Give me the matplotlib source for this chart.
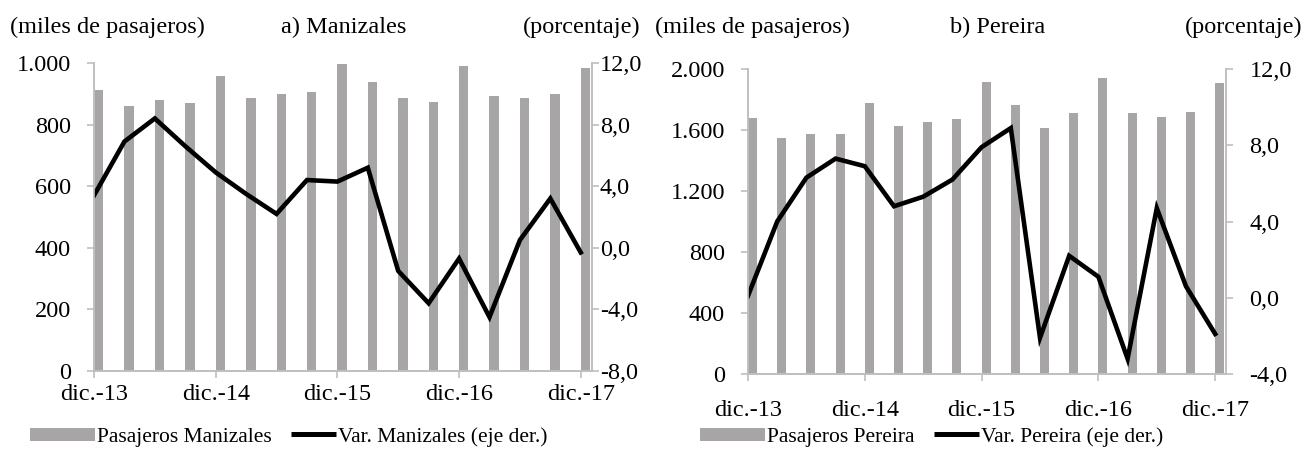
import matplotlib.pyplot as plt
from matplotlib.ticker import FuncFormatter, MultipleLocator
from matplotlib.patches import Patch
from matplotlib.lines import Line2D
from matplotlib.legend_handler import HandlerBase

plt.rcParams['font.family'] = ['Liberation Serif', 'DejaVu Serif']
plt.rcParams['font.size'] = 17.5

# trimestres dic.-13 a dic.-17
trimestres = ['dic.-13', 'mar.-14', 'jun.-14', 'sep.-14',
              'dic.-14', 'mar.-15', 'jun.-15', 'sep.-15',
              'dic.-15', 'mar.-16', 'jun.-16', 'sep.-16',
              'dic.-16', 'mar.-17', 'jun.-17', 'sep.-17', 'dic.-17']

pas_manizales = [912, 860, 880, 869, 958, 887, 900, 906, 996, 938,
                 887, 873, 990, 893, 887, 900, 983]
var_manizales = [3.4, 6.9, 8.4, 6.6, 4.9, 3.5, 2.2, 4.4, 4.3, 5.2,
                 -1.5, -3.6, -0.7, -4.5, 0.5, 3.2, -0.3]

pas_pereira = [1680, 1550, 1575, 1575, 1780, 1625, 1650, 1675, 1915, 1765,
               1610, 1710, 1940, 1710, 1685, 1720, 1905]
var_pereira = [0.1, 4.0, 6.3, 7.3, 6.9, 4.8, 5.3, 6.2, 7.9, 8.9,
               -2.1, 2.2, 1.1, -3.2, 4.7, 0.6, -1.9]

gris = '#a7a5a5'
eje = '#bfbfbf'
W, H = 1308., 451.

miles = FuncFormatter(lambda v, p: '{:,.0f}'.format(v).replace(',', '.'))
pct = FuncFormatter(lambda v, p: '{:.1f}'.format(v).replace('.', ','))


class ShortLine(HandlerBase):
    # legend line shorter than the bar patch, as in the original
    def create_artists(self, legend, orig_handle, xdescent, ydescent,
                       width, height, fontsize, trans):
        y = height / 2. - ydescent
        ln = Line2D([width * 0.3 - xdescent, width - xdescent], [y, y],
                    color=orig_handle.get_color(), lw=orig_handle.get_linewidth(),
                    solid_capstyle='butt', transform=trans)
        return [ln]


fig = plt.figure(figsize=(13.08, 4.51), dpi=100)


def panel(px, pas, var, ymax, ystep, y2lim, titulo, nombre, hx, rpad, xpad, legx):
    x0, x1, ytop, ybot = px
    ax = fig.add_axes([x0 / W, 1 - ybot / H, (x1 - x0) / W, (ybot - ytop) / H])
    x = list(range(len(trimestres)))
    ax.bar(x, pas, width=0.31, align='edge', color=gris, zorder=2)
    ax.set_xlim(0, 16.37)
    ax.set_ylim(0, ymax)
    ax.yaxis.set_major_locator(MultipleLocator(ystep))
    ax.yaxis.set_major_formatter(miles)
    ax.set_xticks(x[::4])
    ax.set_xticklabels(trimestres[::4])

    ax2 = ax.twinx()
    ax2.plot(x, var, color='black', lw=3.3, solid_joinstyle='miter')
    ax2.set_ylim(*y2lim)
    ax2.yaxis.set_major_locator(MultipleLocator(4))
    ax2.yaxis.set_major_formatter(pct)

    for a in (ax, ax2):
        for s in a.spines.values():
            s.set_color(eje)
            s.set_linewidth(1.2)
        a.spines['top'].set_visible(False)
        a.tick_params(color=eje, length=5, width=1.2, direction='out')
    ax.tick_params(axis='y', pad=11.5)
    ax.tick_params(axis='x', pad=xpad)
    ax2.tick_params(axis='y', pad=rpad)

    fig.text(hx[0] / W, 0.94, '(miles de pasajeros)', ha='left', va='center')
    fig.text(hx[1] / W, 0.94, titulo, ha='left', va='center')
    fig.text(hx[2] / W, 0.94, '(porcentaje)', ha='right', va='center')

    handles = [Patch(facecolor=gris, edgecolor='none'),
               Line2D([], [], color='black', lw=3.6)]
    fig.legend(handles, ['Pasajeros ' + nombre, 'Var. ' + nombre + ' (eje der.)'],
               loc='center left', bbox_to_anchor=(legx / W, 1 - 437 / H), ncol=2,
               frameon=False, fontsize=15.5, handlelength=3.0, handleheight=0.55,
               handletextpad=0.1, columnspacing=0.0, borderpad=0, borderaxespad=0,
               handler_map={Line2D: ShortLine()})


panel((94, 592, 63, 371), pas_manizales, var_manizales,
      1000, 200, (-8, 12), 'a) Manizales', 'Manizales', (10, 281, 640), 0.5, 4.5, 30)
panel((748, 1226, 69, 374), pas_pereira, var_pereira,
      2000, 400, (-4, 12), 'b) Pereira', 'Pereira', (655, 950, 1302), 12, 14, 700)

fig.savefig('out.png', dpi=100)
